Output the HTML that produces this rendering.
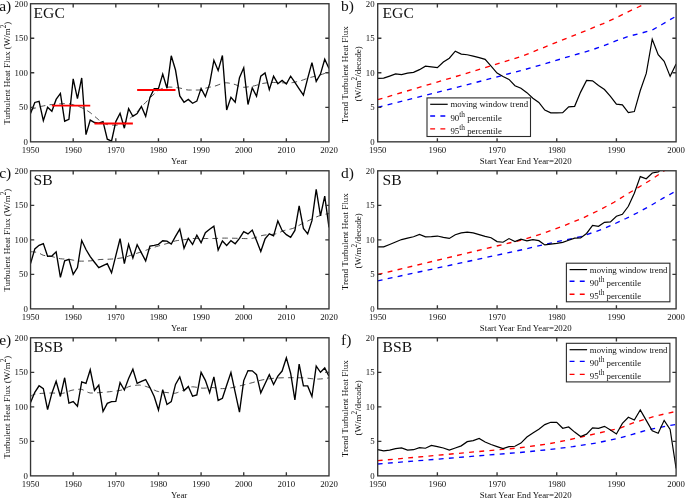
<!DOCTYPE html><html><head><meta charset="utf-8"><style>html,body{margin:0;padding:0;background:#fff;width:685px;height:498px;overflow:hidden}svg{display:block;will-change:transform;filter:blur(0.4px)}text{font-family:"Liberation Serif",serif;fill:#111}</style></head><body>
<svg width="685" height="498" viewBox="0 0 685 498">
<defs>
<clipPath id="cl0"><rect x="30.55" y="3.73" width="298.45" height="138.10000000000002"/></clipPath>
<clipPath id="cr0"><rect x="377.7" y="3.73" width="298.40000000000003" height="138.10000000000002"/></clipPath>
<clipPath id="cl1"><rect x="30.55" y="170.78" width="298.45" height="138.09"/></clipPath>
<clipPath id="cr1"><rect x="377.7" y="170.78" width="298.40000000000003" height="138.09"/></clipPath>
<clipPath id="cl2"><rect x="30.55" y="337.78" width="298.45" height="138.09000000000003"/></clipPath>
<clipPath id="cr2"><rect x="377.7" y="337.78" width="298.40000000000003" height="138.09000000000003"/></clipPath>
</defs>
<path d="M30.55,109.72 L32.68,108.94 L34.81,108.2 L36.95,107.53 L39.08,106.92 L41.21,106.39 L43.34,105.93 L45.47,105.5 L47.6,105.11 L49.74,104.79 L51.87,104.54 L54,104.35 L56.13,104.17 L58.26,104 L60.4,103.85 L62.53,103.74 L64.66,103.67 L66.79,103.65 L68.92,103.79 L71.05,104.18 L73.19,104.74 L75.32,105.39 L77.45,106.06 L79.58,106.81 L81.71,107.71 L83.84,108.76 L85.98,109.92 L88.11,111.19 L90.24,112.64 L92.37,114.39 L94.5,116.25 L96.64,118.03 L98.77,119.88 L100.9,121.46 L103.03,122.78 L105.16,123.92 L107.29,124.57 L109.43,124.85 L111.56,125.07 L113.69,125.21 L115.82,125.26 L117.95,125.01 L120.08,124.38 L122.22,123.49 L124.35,122.5 L126.48,121.12 L128.61,119.39 L130.74,117.66 L132.88,115.83 L135.01,113.88 L137.14,111.79 L139.27,109.41 L141.4,106.87 L143.53,104.6 L145.67,102.47 L147.8,100.28 L149.93,98.08 L152.06,95.97 L154.19,93.94 L156.33,92.06 L158.46,90.55 L160.59,89.23 L162.72,88.32 L164.85,87.72 L166.98,87.26 L169.12,87.07 L171.25,87.13 L173.38,87.28 L175.51,87.5 L177.64,87.75 L179.78,88.03 L181.91,88.52 L184.04,89.15 L186.17,89.73 L188.3,90.03 L190.43,90.04 L192.57,90.04 L194.7,90.04 L196.83,90.04 L198.96,90 L201.09,89.61 L203.22,88.96 L205.36,88.23 L207.49,87.63 L209.62,87.19 L211.75,86.78 L213.88,86.34 L216.02,85.75 L218.15,84.94 L220.28,84.09 L222.41,83.35 L224.54,82.88 L226.67,82.82 L228.81,83.06 L230.94,83.48 L233.07,83.98 L235.2,84.54 L237.33,85.42 L239.47,86.35 L241.6,87.07 L243.73,87.28 L245.86,87.16 L247.99,86.92 L250.12,86.59 L252.26,86.21 L254.39,85.82 L256.52,85.24 L258.65,84.52 L260.78,83.85 L262.91,83.42 L265.05,83.09 L267.18,82.8 L269.31,82.58 L271.44,82.46 L273.57,82.46 L275.71,82.51 L277.84,82.6 L279.97,82.7 L282.1,82.81 L284.23,82.9 L286.36,82.97 L288.5,83 L290.63,82.88 L292.76,82.57 L294.89,82.14 L297.02,81.67 L299.15,81.17 L301.29,80.54 L303.42,79.8 L305.55,79.03 L307.68,78.28 L309.81,77.63 L311.95,77.06 L314.08,76.53 L316.21,76.01 L318.34,75.46 L320.47,74.85 L322.6,74.16 L324.74,73.41 L326.87,72.6 L329,71.74" stroke="#222" stroke-width="0.8" fill="none" stroke-dasharray="5.6 4.2"/>
<path d="M30.55,113.52 L34.81,102.47 L39.08,101.37 L43.34,120.63 L47.6,107.31 L51.87,111.31 L56.13,99.43 L60.4,93.43 L64.66,121.18 L68.92,119.32 L73.19,78.86 L77.45,98.67 L81.71,77.96 L85.98,134.58 L90.24,120.08 L94.5,122.5 L98.77,123.19 L103.03,121.6 L107.29,139.14 L111.56,141 L115.82,121.6 L120.08,113.31 L124.35,128.23 L128.61,108.69 L132.88,116.28 L137.14,113.52 L141.4,106.48 L145.67,116.28 L149.93,97.43 L154.19,88.59 L158.46,88.59 L162.72,74.16 L166.98,88.18 L171.25,55.79 L175.51,70.02 L179.78,95.91 L184.04,102.2 L188.3,99.43 L192.57,103.3 L196.83,101.09 L201.09,88.39 L205.36,96.6 L209.62,83.9 L213.88,60.28 L218.15,70.57 L222.41,55.52 L226.67,110 L230.94,97.29 L235.2,102.2 L239.47,77.61 L243.73,67.81 L247.99,104.54 L252.26,87.9 L256.52,96.33 L260.78,76.23 L265.05,72.99 L269.31,89.63 L273.57,76.23 L277.84,83.69 L282.1,80.38 L286.36,83.97 L290.63,76.23 L294.89,82.45 L299.15,88.87 L303.42,95.22 L307.68,78.3 L311.95,62.56 L316.21,81.41 L320.47,74.09 L324.74,59.25 L329,68.5" stroke="#000" stroke-width="1.35" fill="none" stroke-linejoin="miter" clip-path="url(#cl0)"/>
<line x1="51.87" y1="105.58" x2="90.24" y2="105.58" stroke="#ff0000" stroke-width="1.9"/>
<line x1="94.5" y1="123.53" x2="132.88" y2="123.53" stroke="#ff0000" stroke-width="1.9"/>
<line x1="137.14" y1="90.04" x2="175.51" y2="90.04" stroke="#ff0000" stroke-width="1.9"/>
<rect x="30.55" y="3.73" width="298.45" height="138.1" stroke="#353535" stroke-width="1.35" fill="none"/>
<path d="M73.19,141.83v-3.7M73.19,3.73v3.7M115.82,141.83v-3.7M115.82,3.73v3.7M158.46,141.83v-3.7M158.46,3.73v3.7M201.09,141.83v-3.7M201.09,3.73v3.7M243.73,141.83v-3.7M243.73,3.73v3.7M286.36,141.83v-3.7M286.36,3.73v3.7M30.55,107.31h3.7M329.0,107.31h-3.7M30.55,72.78h3.7M329.0,72.78h-3.7M30.55,38.25h3.7M329.0,38.25h-3.7" stroke="#353535" stroke-width="1.35" fill="none"/>
<text x="27.8" y="144.83" font-size="8.8" text-anchor="end">0</text>
<text x="27.8" y="110.31" font-size="8.8" text-anchor="end">50</text>
<text x="27.8" y="75.78" font-size="8.8" text-anchor="end">100</text>
<text x="27.8" y="41.25" font-size="8.8" text-anchor="end">150</text>
<text x="27.8" y="6.73" font-size="8.8" text-anchor="end">200</text>
<text x="30.55" y="153.03" font-size="8.8" text-anchor="middle">1950</text>
<text x="73.19" y="153.03" font-size="8.8" text-anchor="middle">1960</text>
<text x="115.82" y="153.03" font-size="8.8" text-anchor="middle">1970</text>
<text x="158.46" y="153.03" font-size="8.8" text-anchor="middle">1980</text>
<text x="201.09" y="153.03" font-size="8.8" text-anchor="middle">1990</text>
<text x="243.73" y="153.03" font-size="8.8" text-anchor="middle">2000</text>
<text x="286.36" y="153.03" font-size="8.8" text-anchor="middle">2010</text>
<text x="329" y="153.03" font-size="8.8" text-anchor="middle">2020</text>
<text x="179.2" y="164.13" font-size="8.8" text-anchor="middle">Year</text>
<text transform="translate(10.1,73.18) rotate(-90)" font-size="9" text-anchor="middle">Turbulent Heat Flux (W/m<tspan font-size="7.2" dy="-4.4">2</tspan><tspan dy="4.4">)</tspan></text>
<text x="-0.8" y="10.83" font-size="15.5">a)</text>
<text x="33.6" y="17.73" font-size="15.6">EGC</text>
<g clip-path="url(#cr0)">
<path d="M377.7,107.31 L455.28,87.83 L523.62,69.88 L547.79,62.97 L570.47,56.07 L590.16,50.48 L603.29,45.85 L616.42,40.67 L629.55,36.05 L642.68,32.73 L653.42,29.42 L662.37,24.24 L676.1,16.16" stroke="#0000ff" stroke-width="1.35" fill="none" stroke-dasharray="4.9 5.3"/>
<path d="M377.7,99.71 L455.28,76.72 L521.29,56.48 L547.79,45.85 L570.47,36.87 L590.16,28.86 L603.29,23.55 L616.42,17.61 L629.55,11.05 L642.68,5.11 L676.1,-13.53" stroke="#ff0000" stroke-width="1.35" fill="none" stroke-dasharray="4.9 5.3"/>
<path d="M377.7,78.37 L383.67,78.17 L389.64,76.09 L395.6,73.88 L401.57,74.58 L407.54,73.19 L413.51,72.3 L419.48,69.67 L425.44,66.15 L431.41,66.84 L437.38,67.6 L443.35,61.94 L449.32,58.21 L455.28,51.17 L461.25,54.07 L467.22,54.76 L473.19,56.14 L479.16,57.59 L485.12,59.38 L491.09,66.08 L497.06,73.06 L503.03,76.58 L509,79.41 L514.96,85.69 L520.93,88.25 L526.9,92.67 L532.87,98.19 L538.84,102.4 L544.8,110.14 L550.77,112.9 L556.74,112.9 L562.71,112.62 L568.68,106.89 L574.64,106.34 L580.61,92.11 L586.58,80.38 L592.55,80.79 L598.52,85.49 L604.48,89.49 L610.45,96.46 L616.42,104.13 L622.39,104.89 L628.36,112.62 L634.32,111.59 L640.29,90.53 L646.26,73.4 L652.23,39.22 L658.2,54.69 L664.16,61.39 L670.13,76.37 L676.1,63.94" stroke="#000" stroke-width="1.2" fill="none"/>
</g>
<rect x="377.7" y="3.73" width="298.4" height="138.1" stroke="#353535" stroke-width="1.35" fill="none"/>
<path d="M437.38,141.83v-3.7M437.38,3.73v3.7M497.06,141.83v-3.7M497.06,3.73v3.7M556.74,141.83v-3.7M556.74,3.73v3.7M616.42,141.83v-3.7M616.42,3.73v3.7M377.7,107.31h3.7M676.1,107.31h-3.7M377.7,72.78h3.7M676.1,72.78h-3.7M377.7,38.25h3.7M676.1,38.25h-3.7" stroke="#353535" stroke-width="1.35" fill="none"/>
<text x="374.6" y="144.83" font-size="8.8" text-anchor="end">0</text>
<text x="374.6" y="110.31" font-size="8.8" text-anchor="end">5</text>
<text x="374.6" y="75.78" font-size="8.8" text-anchor="end">10</text>
<text x="374.6" y="41.25" font-size="8.8" text-anchor="end">15</text>
<text x="374.6" y="6.73" font-size="8.8" text-anchor="end">20</text>
<text x="377.7" y="153.03" font-size="8.8" text-anchor="middle">1950</text>
<text x="437.38" y="153.03" font-size="8.8" text-anchor="middle">1960</text>
<text x="497.06" y="153.03" font-size="8.8" text-anchor="middle">1970</text>
<text x="556.74" y="153.03" font-size="8.8" text-anchor="middle">1980</text>
<text x="616.42" y="153.03" font-size="8.8" text-anchor="middle">1990</text>
<text x="676.1" y="153.03" font-size="8.8" text-anchor="middle">2000</text>
<text x="525.7" y="164.13" font-size="8.8" text-anchor="middle">Start Year End Year=2020</text>
<text transform="translate(347.9,74.68) rotate(-90)" font-size="9.05" text-anchor="middle">Trend Turbulent Heat Flux</text>
<text transform="translate(361.1,73.88) rotate(-90)" font-size="9.05" text-anchor="middle">(W/m<tspan font-size="7.2" dy="-4.4">2</tspan><tspan dy="4.4">/decade)</tspan></text>
<text x="341" y="10.83" font-size="15.5">b)</text>
<text x="382.6" y="17.73" font-size="15.6">EGC</text>
<rect x="427.0" y="97.9" width="103.5" height="38.6" fill="#fff" stroke="#2a2a2a" stroke-width="1.1"/>
<line x1="430.2" y1="104.3" x2="447.7" y2="104.3" stroke="#000" stroke-width="1.2"/>
<line x1="430.2" y1="115.95" x2="447.7" y2="115.95" stroke="#0000ff" stroke-width="1.35" stroke-dasharray="4.9 5.3"/>
<line x1="430.2" y1="128.9" x2="447.7" y2="128.9" stroke="#ff0000" stroke-width="1.35" stroke-dasharray="4.9 5.3"/>
<text x="450.4" y="107.2" font-size="8.8">moving window trend</text>
<text x="450.4" y="120.55" font-size="8.8">90<tspan font-size="7.4" dy="-3.6">th</tspan><tspan dy="3.6"> percentile</tspan></text>
<text x="450.4" y="133.5" font-size="8.8">95<tspan font-size="7.4" dy="-3.6">th</tspan><tspan dy="3.6"> percentile</tspan></text>
<path d="M30.55,251.77 L32.68,251.83 L34.81,252.01 L36.95,252.26 L39.08,252.95 L41.21,254.29 L43.34,255.29 L45.47,255.68 L47.6,255.95 L49.74,256.2 L51.87,256.55 L54,257.1 L56.13,257.74 L58.26,258.34 L60.4,258.74 L62.53,258.94 L64.66,259.08 L66.79,259.22 L68.92,259.41 L71.05,259.73 L73.19,260.15 L75.32,260.58 L77.45,260.94 L79.58,261.14 L81.71,261.15 L83.84,261.11 L85.98,261.05 L88.11,260.96 L90.24,260.86 L92.37,260.64 L94.5,260.31 L96.64,259.96 L98.77,259.65 L100.9,259.48 L103.03,259.39 L105.16,259.33 L107.29,259.27 L109.43,259.18 L111.56,259.05 L113.69,258.88 L115.82,258.67 L117.95,258.42 L120.08,258.12 L122.22,257.79 L124.35,257.4 L126.48,256.8 L128.61,256.05 L130.74,255.26 L132.88,254.53 L135.01,253.86 L137.14,253.21 L139.27,252.54 L141.4,251.86 L143.53,251.15 L145.67,250.37 L147.8,249.54 L149.93,248.72 L152.06,247.97 L154.19,247.27 L156.33,246.61 L158.46,245.97 L160.59,245.34 L162.72,244.72 L164.85,244.13 L166.98,243.54 L169.12,242.93 L171.25,242.22 L173.38,241.48 L175.51,240.88 L177.64,240.5 L179.78,240.21 L181.91,239.96 L184.04,239.72 L186.17,239.44 L188.3,239.11 L190.43,238.79 L192.57,238.54 L194.7,238.44 L196.83,238.45 L198.96,238.47 L201.09,238.48 L203.22,238.5 L205.36,238.51 L207.49,238.51 L209.62,238.51 L211.75,238.51 L213.88,238.51 L216.02,238.46 L218.15,238.35 L220.28,238.21 L222.41,238.12 L224.54,238.1 L226.67,238.11 L228.81,238.14 L230.94,238.18 L233.07,238.21 L235.2,238.25 L237.33,238.31 L239.47,238.39 L241.6,238.47 L243.73,238.54 L245.86,238.61 L247.99,238.64 L250.12,238.62 L252.26,238.34 L254.39,237.84 L256.52,237.19 L258.65,236.5 L260.78,235.85 L262.91,235.34 L265.05,235.03 L267.18,234.81 L269.31,234.63 L271.44,234.45 L273.57,234.21 L275.71,233.87 L277.84,233.2 L279.97,232.27 L282.1,231.3 L284.23,230.5 L286.36,229.95 L288.5,229.5 L290.63,229.03 L292.76,228.43 L294.89,227.58 L297.02,226.49 L299.15,225.31 L301.29,224.16 L303.42,223.1 L305.55,222.04 L307.68,221 L309.81,220 L311.95,219.01 L314.08,218 L316.21,217.03 L318.34,216.16 L320.47,215.45 L322.6,214.87 L324.74,214.35 L326.87,213.91 L329,213.59" stroke="#222" stroke-width="0.8" fill="none" stroke-dasharray="5.6 4.2"/>
<path d="M30.55,263.65 L34.81,248.87 L39.08,245.35 L43.34,243.55 L47.6,256.26 L51.87,255.98 L56.13,251.77 L60.4,277.32 L64.66,260.88 L68.92,259.43 L73.19,274.28 L77.45,267.51 L81.71,240.45 L85.98,249.49 L90.24,256.67 L94.5,262.26 L98.77,267.72 L103.03,265.58 L107.29,263.65 L111.56,272.83 L115.82,255.71 L120.08,238.72 L124.35,263.65 L128.61,244.31 L132.88,258.05 L137.14,244.66 L141.4,252.87 L145.67,260.88 L149.93,246.04 L154.19,245.35 L158.46,244.31 L162.72,240.72 L166.98,241.14 L171.25,243.97 L175.51,236.37 L179.78,229.12 L184.04,248.25 L188.3,238.31 L192.57,244.45 L196.83,235.2 L201.09,242.66 L205.36,232.71 L209.62,229.33 L213.88,226.09 L218.15,250.04 L222.41,240.93 L226.67,245.42 L230.94,240.65 L235.2,243.76 L239.47,238.31 L243.73,231.54 L247.99,233.89 L252.26,230.09 L256.52,240.52 L260.78,251.56 L265.05,238.93 L269.31,233.89 L273.57,235.82 L277.84,220.91 L282.1,230.43 L286.36,234.65 L290.63,237.41 L294.89,230.43 L299.15,205.79 L303.42,228.43 L307.68,233.89 L311.95,220.63 L316.21,189.35 L320.47,215.87 L324.74,196.12 L329,227.4" stroke="#000" stroke-width="1.35" fill="none" stroke-linejoin="miter" clip-path="url(#cl1)"/>
<rect x="30.55" y="170.78" width="298.45" height="138.09" stroke="#353535" stroke-width="1.35" fill="none"/>
<path d="M73.19,308.87v-3.7M73.19,170.78v3.7M115.82,308.87v-3.7M115.82,170.78v3.7M158.46,308.87v-3.7M158.46,170.78v3.7M201.09,308.87v-3.7M201.09,170.78v3.7M243.73,308.87v-3.7M243.73,170.78v3.7M286.36,308.87v-3.7M286.36,170.78v3.7M30.55,274.35h3.7M329.0,274.35h-3.7M30.55,239.82h3.7M329.0,239.82h-3.7M30.55,205.3h3.7M329.0,205.3h-3.7" stroke="#353535" stroke-width="1.35" fill="none"/>
<text x="27.8" y="311.87" font-size="8.8" text-anchor="end">0</text>
<text x="27.8" y="277.35" font-size="8.8" text-anchor="end">50</text>
<text x="27.8" y="242.82" font-size="8.8" text-anchor="end">100</text>
<text x="27.8" y="208.3" font-size="8.8" text-anchor="end">150</text>
<text x="27.8" y="173.78" font-size="8.8" text-anchor="end">200</text>
<text x="30.55" y="320.07" font-size="8.8" text-anchor="middle">1950</text>
<text x="73.19" y="320.07" font-size="8.8" text-anchor="middle">1960</text>
<text x="115.82" y="320.07" font-size="8.8" text-anchor="middle">1970</text>
<text x="158.46" y="320.07" font-size="8.8" text-anchor="middle">1980</text>
<text x="201.09" y="320.07" font-size="8.8" text-anchor="middle">1990</text>
<text x="243.73" y="320.07" font-size="8.8" text-anchor="middle">2000</text>
<text x="286.36" y="320.07" font-size="8.8" text-anchor="middle">2010</text>
<text x="329" y="320.07" font-size="8.8" text-anchor="middle">2020</text>
<text x="179.2" y="331.17" font-size="8.8" text-anchor="middle">Year</text>
<text transform="translate(10.1,240.22) rotate(-90)" font-size="9" text-anchor="middle">Turbulent Heat Flux (W/m<tspan font-size="7.2" dy="-4.4">2</tspan><tspan dy="4.4">)</tspan></text>
<text x="-0.8" y="177.88" font-size="15.5">c)</text>
<text x="33.6" y="184.78" font-size="15.6">SB</text>
<g clip-path="url(#cr1)">
<path d="M377.7,280.84 L524.81,249.15 L546,244.11 L564.5,240.1 L580.61,236.72 L602.69,229.12 L614.03,224.08 L625.97,218.49 L638.5,212.28 L651.03,205.37 L663.57,197.91 L676.1,191.01" stroke="#0000ff" stroke-width="1.35" fill="none" stroke-dasharray="4.9 5.3"/>
<path d="M377.7,274.49 L523.62,239.55 L543.61,233.13 L563.3,226.02 L581.81,218.49 L598.81,210.34 L614.03,202.26 L625.97,194.81 L638.5,187.35 L651.03,179.82 L662.97,171.68 L676.1,163.19" stroke="#ff0000" stroke-width="1.35" fill="none" stroke-dasharray="4.9 5.3"/>
<path d="M377.7,246.87 L383.67,246.87 L389.64,244.45 L395.6,242.03 L401.57,239.55 L407.54,238.1 L413.51,236.72 L419.48,234.51 L425.44,236.93 L431.41,236.72 L437.38,236.03 L443.35,237.41 L449.32,238.44 L455.28,234.78 L461.25,232.85 L467.22,232.09 L473.19,232.85 L479.16,234.65 L485.12,236.37 L491.09,237.75 L497.06,241.55 L503.03,242.24 L509,238.58 L514.96,241.55 L520.93,239.13 L526.9,240.86 L532.87,239.55 L538.84,240.65 L544.8,244.87 L550.77,244.04 L556.74,243.42 L562.71,242.31 L568.68,240.24 L574.64,238.1 L580.61,237.89 L586.58,233.47 L592.55,225.33 L598.52,226.29 L604.48,222.29 L610.45,221.87 L616.42,216.28 L622.39,214.28 L628.36,206.27 L634.32,193.15 L640.29,176.58 L646.26,178.72 L652.23,172.99 L658.2,171.95 L664.16,166.64 L670.13,163.88 L676.1,160.42" stroke="#000" stroke-width="1.2" fill="none"/>
</g>
<rect x="377.7" y="170.78" width="298.4" height="138.09" stroke="#353535" stroke-width="1.35" fill="none"/>
<path d="M437.38,308.87v-3.7M437.38,170.78v3.7M497.06,308.87v-3.7M497.06,170.78v3.7M556.74,308.87v-3.7M556.74,170.78v3.7M616.42,308.87v-3.7M616.42,170.78v3.7M377.7,274.35h3.7M676.1,274.35h-3.7M377.7,239.82h3.7M676.1,239.82h-3.7M377.7,205.3h3.7M676.1,205.3h-3.7" stroke="#353535" stroke-width="1.35" fill="none"/>
<text x="374.6" y="311.87" font-size="8.8" text-anchor="end">0</text>
<text x="374.6" y="277.35" font-size="8.8" text-anchor="end">5</text>
<text x="374.6" y="242.82" font-size="8.8" text-anchor="end">10</text>
<text x="374.6" y="208.3" font-size="8.8" text-anchor="end">15</text>
<text x="374.6" y="173.78" font-size="8.8" text-anchor="end">20</text>
<text x="377.7" y="320.07" font-size="8.8" text-anchor="middle">1950</text>
<text x="437.38" y="320.07" font-size="8.8" text-anchor="middle">1960</text>
<text x="497.06" y="320.07" font-size="8.8" text-anchor="middle">1970</text>
<text x="556.74" y="320.07" font-size="8.8" text-anchor="middle">1980</text>
<text x="616.42" y="320.07" font-size="8.8" text-anchor="middle">1990</text>
<text x="676.1" y="320.07" font-size="8.8" text-anchor="middle">2000</text>
<text x="525.7" y="331.17" font-size="8.8" text-anchor="middle">Start Year End Year=2020</text>
<text transform="translate(347.9,241.72) rotate(-90)" font-size="9.05" text-anchor="middle">Trend Turbulent Heat Flux</text>
<text transform="translate(361.1,240.92) rotate(-90)" font-size="9.05" text-anchor="middle">(W/m<tspan font-size="7.2" dy="-4.4">2</tspan><tspan dy="4.4">/decade)</tspan></text>
<text x="341" y="177.88" font-size="15.5">d)</text>
<text x="382.6" y="184.78" font-size="15.6">SB</text>
<rect x="566.4" y="263.2" width="103.5" height="38.6" fill="#fff" stroke="#2a2a2a" stroke-width="1.1"/>
<line x1="569.6" y1="269.6" x2="587.1" y2="269.6" stroke="#000" stroke-width="1.2"/>
<line x1="569.6" y1="281.25" x2="587.1" y2="281.25" stroke="#0000ff" stroke-width="1.35" stroke-dasharray="4.9 5.3"/>
<line x1="569.6" y1="294.2" x2="587.1" y2="294.2" stroke="#ff0000" stroke-width="1.35" stroke-dasharray="4.9 5.3"/>
<text x="589.8" y="272.5" font-size="8.8">moving window trend</text>
<text x="589.8" y="285.85" font-size="8.8">90<tspan font-size="7.4" dy="-3.6">th</tspan><tspan dy="3.6"> percentile</tspan></text>
<text x="589.8" y="298.8" font-size="8.8">95<tspan font-size="7.4" dy="-3.6">th</tspan><tspan dy="3.6"> percentile</tspan></text>
<path d="M30.55,396.47 L32.68,394.96 L34.81,394.05 L36.95,393.75 L39.08,393.54 L41.21,393.4 L43.34,393.29 L45.47,393.19 L47.6,393.1 L49.74,393.04 L51.87,393.02 L54,393.06 L56.13,393.16 L58.26,393.26 L60.4,393.35 L62.53,393.31 L64.66,392.86 L66.79,392.09 L68.92,391.22 L71.05,390.45 L73.19,389.98 L75.32,389.66 L77.45,389.39 L79.58,389.23 L81.71,389.38 L83.84,390.2 L85.98,391.35 L88.11,392.42 L90.24,393 L92.37,392.99 L94.5,392.91 L96.64,392.8 L98.77,392.67 L100.9,392.53 L103.03,392.36 L105.16,392.16 L107.29,391.95 L109.43,391.73 L111.56,391.52 L113.69,391.3 L115.82,391.06 L117.95,390.77 L120.08,390.42 L122.22,389.88 L124.35,388.9 L126.48,387.74 L128.61,386.7 L130.74,386.1 L132.88,385.71 L135.01,385.39 L137.14,385.16 L139.27,385.08 L141.4,385.26 L143.53,385.73 L145.67,386.37 L147.8,387.08 L149.93,387.84 L152.06,388.89 L154.19,390.03 L156.33,391 L158.46,391.57 L160.59,391.89 L162.72,392.13 L164.85,392.33 L166.98,392.55 L169.12,392.84 L171.25,393.17 L173.38,393.35 L175.51,393.18 L177.64,392.53 L179.78,391.63 L181.91,390.69 L184.04,389.85 L186.17,388.83 L188.3,387.8 L190.43,387.03 L192.57,386.81 L194.7,386.99 L196.83,387.33 L198.96,387.73 L201.09,388.05 L203.22,388.18 L205.36,388.08 L207.49,387.86 L209.62,387.63 L211.75,387.5 L213.88,387.63 L216.02,388.03 L218.15,388.47 L220.28,388.67 L222.41,388.62 L224.54,388.5 L226.67,388.31 L228.81,388.1 L230.94,387.86 L233.07,387.5 L235.2,387.03 L237.33,386.5 L239.47,385.97 L241.6,385.46 L243.73,384.92 L245.86,384.37 L247.99,383.81 L250.12,383.24 L252.26,382.69 L254.39,382.09 L256.52,381.45 L258.65,380.83 L260.78,380.26 L262.91,379.78 L265.05,379.42 L267.18,379.11 L269.31,378.81 L271.44,378.55 L273.57,378.32 L275.71,378.13 L277.84,377.98 L279.97,377.88 L282.1,377.8 L284.23,377.73 L286.36,377.7 L288.5,377.69 L290.63,377.69 L292.76,377.71 L294.89,377.72 L297.02,377.75 L299.15,377.77 L301.29,377.81 L303.42,377.85 L305.55,377.99 L307.68,378.22 L309.81,378.48 L311.95,378.73 L314.08,378.94 L316.21,379.06 L318.34,379.05 L320.47,378.95 L322.6,378.78 L324.74,378.52 L326.87,378.2 L329,377.83" stroke="#222" stroke-width="0.8" fill="none" stroke-dasharray="5.6 4.2"/>
<path d="M30.55,402.41 L34.81,392.26 L39.08,385.77 L43.34,388.6 L47.6,409.66 L51.87,393.15 L56.13,381.28 L60.4,396.47 L64.66,377.76 L68.92,403.1 L73.19,401.65 L77.45,406.27 L81.71,381.97 L85.98,383.35 L90.24,369.75 L94.5,390.39 L98.77,385.14 L103.03,411.45 L107.29,403.37 L111.56,401.65 L115.82,401.3 L120.08,382.66 L124.35,389.98 L128.61,378.52 L132.88,369.26 L137.14,383.35 L141.4,381.28 L145.67,379.55 L149.93,387.56 L154.19,396.47 L158.46,410.07 L162.72,389.7 L166.98,404.48 L171.25,401.65 L175.51,384.39 L179.78,376.86 L184.04,390.67 L188.3,386.46 L192.57,396.26 L196.83,394.88 L201.09,372.37 L205.36,380.38 L209.62,392.67 L213.88,376.86 L218.15,400.47 L222.41,398.26 L226.67,385.28 L230.94,372.65 L235.2,392.39 L239.47,412.07 L243.73,380.59 L247.99,370.58 L252.26,370.85 L256.52,374.65 L260.78,392.88 L265.05,383.76 L269.31,374.65 L273.57,384.45 L277.84,376.1 L282.1,371.06 L286.36,357.8 L290.63,373.2 L294.89,399.99 L299.15,364.09 L303.42,385.9 L307.68,385.9 L311.95,396.47 L316.21,366.16 L320.47,372.3 L324.74,367.95 L329,376.1" stroke="#000" stroke-width="1.35" fill="none" stroke-linejoin="miter" clip-path="url(#cl2)"/>
<rect x="30.55" y="337.78" width="298.45" height="138.09" stroke="#353535" stroke-width="1.35" fill="none"/>
<path d="M73.19,475.87v-3.7M73.19,337.78v3.7M115.82,475.87v-3.7M115.82,337.78v3.7M158.46,475.87v-3.7M158.46,337.78v3.7M201.09,475.87v-3.7M201.09,337.78v3.7M243.73,475.87v-3.7M243.73,337.78v3.7M286.36,475.87v-3.7M286.36,337.78v3.7M30.55,441.35h3.7M329.0,441.35h-3.7M30.55,406.82h3.7M329.0,406.82h-3.7M30.55,372.3h3.7M329.0,372.3h-3.7" stroke="#353535" stroke-width="1.35" fill="none"/>
<text x="27.8" y="478.87" font-size="8.8" text-anchor="end">0</text>
<text x="27.8" y="444.35" font-size="8.8" text-anchor="end">50</text>
<text x="27.8" y="409.82" font-size="8.8" text-anchor="end">100</text>
<text x="27.8" y="375.3" font-size="8.8" text-anchor="end">150</text>
<text x="27.8" y="340.78" font-size="8.8" text-anchor="end">200</text>
<text x="30.55" y="487.07" font-size="8.8" text-anchor="middle">1950</text>
<text x="73.19" y="487.07" font-size="8.8" text-anchor="middle">1960</text>
<text x="115.82" y="487.07" font-size="8.8" text-anchor="middle">1970</text>
<text x="158.46" y="487.07" font-size="8.8" text-anchor="middle">1980</text>
<text x="201.09" y="487.07" font-size="8.8" text-anchor="middle">1990</text>
<text x="243.73" y="487.07" font-size="8.8" text-anchor="middle">2000</text>
<text x="286.36" y="487.07" font-size="8.8" text-anchor="middle">2010</text>
<text x="329" y="487.07" font-size="8.8" text-anchor="middle">2020</text>
<text x="179.2" y="498.17" font-size="8.8" text-anchor="middle">Year</text>
<text transform="translate(10.1,407.22) rotate(-90)" font-size="9" text-anchor="middle">Turbulent Heat Flux (W/m<tspan font-size="7.2" dy="-4.4">2</tspan><tspan dy="4.4">)</tspan></text>
<text x="-0.8" y="344.88" font-size="15.5">e)</text>
<text x="33.6" y="351.78" font-size="15.6">BSB</text>
<g clip-path="url(#cr2)">
<path d="M377.7,463.99 L520.1,452.46 L549.28,449.56 L572.85,446.66 L596.13,443 L620,437.96 L632.53,434.3 L647.45,429.96 L659.39,427.47 L669.54,425.61 L676.1,424.36" stroke="#0000ff" stroke-width="1.35" fill="none" stroke-dasharray="4.9 5.3"/>
<path d="M377.7,460.68 L520.1,447.77 L549.28,443.7 L569.27,439.69 L596.13,433.68 L620,428.09 L632.53,423.19 L644.47,419.39 L657,415.66 L676.1,411.38" stroke="#ff0000" stroke-width="1.35" fill="none" stroke-dasharray="4.9 5.3"/>
<path d="M377.7,449.7 L383.67,450.81 L389.64,450.12 L395.6,448.67 L401.57,447.98 L407.54,450.12 L413.51,449.7 L419.48,447.7 L425.44,448.25 L431.41,445.49 L437.38,446.59 L443.35,447.98 L449.32,450.12 L455.28,447.98 L461.25,445.84 L467.22,441.69 L473.19,440.66 L479.16,438.38 L485.12,442.04 L491.09,444.45 L497.06,446.59 L503.03,448.67 L509,446.59 L514.96,446.25 L520.93,443.07 L526.9,437.07 L532.87,433.06 L538.84,429.26 L544.8,424.57 L550.77,422.29 L556.74,422.29 L562.71,428.23 L568.68,426.99 L574.64,432.1 L580.61,436.58 L586.58,434.17 L592.55,427.95 L598.52,428.37 L604.48,426.36 L610.45,429.96 L616.42,433.96 L622.39,423.4 L628.36,417.25 L634.32,419.94 L640.29,409.86 L646.26,420.36 L652.23,430.78 L658.2,433.34 L664.16,420.36 L670.13,429.4 L676.1,468.48" stroke="#000" stroke-width="1.2" fill="none"/>
</g>
<rect x="377.7" y="337.78" width="298.4" height="138.09" stroke="#353535" stroke-width="1.35" fill="none"/>
<path d="M437.38,475.87v-3.7M437.38,337.78v3.7M497.06,475.87v-3.7M497.06,337.78v3.7M556.74,475.87v-3.7M556.74,337.78v3.7M616.42,475.87v-3.7M616.42,337.78v3.7M377.7,441.35h3.7M676.1,441.35h-3.7M377.7,406.82h3.7M676.1,406.82h-3.7M377.7,372.3h3.7M676.1,372.3h-3.7" stroke="#353535" stroke-width="1.35" fill="none"/>
<text x="374.6" y="478.87" font-size="8.8" text-anchor="end">0</text>
<text x="374.6" y="444.35" font-size="8.8" text-anchor="end">5</text>
<text x="374.6" y="409.82" font-size="8.8" text-anchor="end">10</text>
<text x="374.6" y="375.3" font-size="8.8" text-anchor="end">15</text>
<text x="374.6" y="340.78" font-size="8.8" text-anchor="end">20</text>
<text x="377.7" y="487.07" font-size="8.8" text-anchor="middle">1950</text>
<text x="437.38" y="487.07" font-size="8.8" text-anchor="middle">1960</text>
<text x="497.06" y="487.07" font-size="8.8" text-anchor="middle">1970</text>
<text x="556.74" y="487.07" font-size="8.8" text-anchor="middle">1980</text>
<text x="616.42" y="487.07" font-size="8.8" text-anchor="middle">1990</text>
<text x="676.1" y="487.07" font-size="8.8" text-anchor="middle">2000</text>
<text x="525.7" y="498.17" font-size="8.8" text-anchor="middle">Start Year End Year=2020</text>
<text transform="translate(347.9,408.72) rotate(-90)" font-size="9.05" text-anchor="middle">Trend Turbulent Heat Flux</text>
<text transform="translate(361.1,407.93) rotate(-90)" font-size="9.05" text-anchor="middle">(W/m<tspan font-size="7.2" dy="-4.4">2</tspan><tspan dy="4.4">/decade)</tspan></text>
<text x="341" y="344.88" font-size="15.5">f)</text>
<text x="382.6" y="351.78" font-size="15.6">BSB</text>
<rect x="566.4" y="343.3" width="103.5" height="38.6" fill="#fff" stroke="#2a2a2a" stroke-width="1.1"/>
<line x1="569.6" y1="349.7" x2="587.1" y2="349.7" stroke="#000" stroke-width="1.2"/>
<line x1="569.6" y1="361.35" x2="587.1" y2="361.35" stroke="#0000ff" stroke-width="1.35" stroke-dasharray="4.9 5.3"/>
<line x1="569.6" y1="374.3" x2="587.1" y2="374.3" stroke="#ff0000" stroke-width="1.35" stroke-dasharray="4.9 5.3"/>
<text x="589.8" y="352.6" font-size="8.8">moving window trend</text>
<text x="589.8" y="365.95" font-size="8.8">90<tspan font-size="7.4" dy="-3.6">th</tspan><tspan dy="3.6"> percentile</tspan></text>
<text x="589.8" y="378.9" font-size="8.8">95<tspan font-size="7.4" dy="-3.6">th</tspan><tspan dy="3.6"> percentile</tspan></text>
</svg></body></html>
